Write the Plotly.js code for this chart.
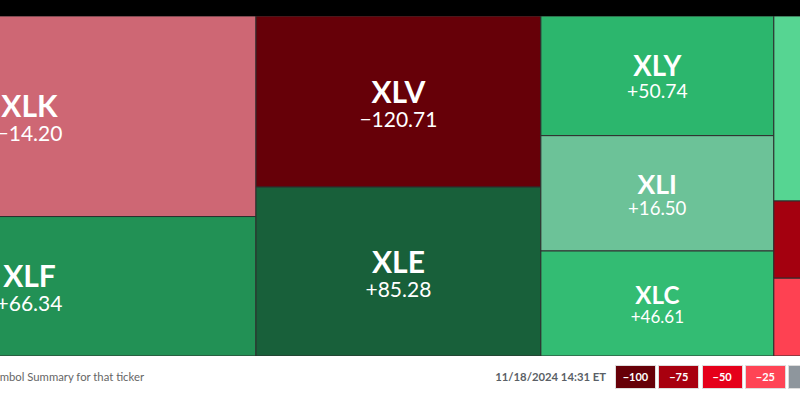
<!DOCTYPE html>
<html><head><meta charset="utf-8">
<script src="https://cdn.plot.ly/plotly-3.0.1.min.js"></script>
<style>
html,body{margin:0;padding:0;width:800px;height:400px;overflow:hidden;background:#fff;font-family:Lato,sans-serif;position:relative;}
#topbar{position:absolute;left:0;top:0;width:800px;height:16px;background:#000;}
#chart{position:absolute;left:-197px;top:16px;width:1141px;height:340px;}
#hint{position:absolute;right:656px;top:370px;font-size:11.3px;color:#666;white-space:nowrap;}
#stamp{position:absolute;right:194px;top:370px;font-size:11.3px;font-weight:bold;color:#5a5f66;white-space:nowrap;}
.box{position:absolute;top:365px;width:39px;height:22px;border:1px solid #ddd;color:#fff;font-size:11px;font-weight:bold;text-align:center;line-height:22px;}
</style></head>
<body>
<div id="topbar"></div>
<div id="chart"></div>
<div id="hint"></div>
<div id="stamp"></div>
<script>
const tickers = ['XLK','XLF','XLV','XLE','XLY','XLI','XLC','XLP','XLU','XLRE'];
const changes = [-14.20, 66.34, -120.71, 85.28, 50.74, 16.50, 46.61, 27.30, -76.40, -26.10];
const weights = [90.6, 63.0, 48.6, 48.0, 27.8, 26.8, 24.4, 31.4, 13.1, 13.2];
const columns = ['col1','col1','col2','col2','col3','col3','col3','col4','col4','col4'];
const columnIds = ['col1','col2','col3','col4'];
const legendSteps = [-100, -75, -50, -25, 0, 25, 50, 75, 100];
const footerHint = 'Click on a tile to view the Symbol Summary for that ticker';
const timestamp = '11/18/2024 14:31 ET';

const colorscale = [
  [0, '#660008'], [0.125, '#A8000F'], [0.25, '#E5001A'], [0.375, '#FF4455'],
  [0.5, '#8E969D'], [0.625, '#5AD896'], [0.75, '#2DB86E'], [0.875, '#1C7C48'], [1, '#123826']
];
const plotHeight = 340;

function fmt(v){ return (v < 0 ? '\u2212' : '+') + Math.abs(v).toFixed(2); }
function stepLabel(v){ return v < 0 ? '\u2212' + Math.abs(v) : (v > 0 ? '+' + v : '0'); }
function hex2rgb(h){ return [parseInt(h.substr(1,2),16), parseInt(h.substr(3,2),16), parseInt(h.substr(5,2),16)]; }
function scaleColor(v){
  let t = Math.max(0, Math.min(1, (v + 100) / 200));
  for (let i = 1; i < colorscale.length; i++) {
    if (t <= colorscale[i][0]) {
      const a = colorscale[i-1], b = colorscale[i];
      const f = (t - a[0]) / (b[0] - a[0]);
      const ca = hex2rgb(a[1]), cb = hex2rgb(b[1]);
      return 'rgb(' + ca.map((c, k) => Math.round(c + (cb[k] - c) * f)).join(',') + ')';
    }
  }
  return colorscale[colorscale.length-1][1];
}

// text shrinks in shorter tiles (share of its column)
const colTotals = {};
columns.forEach((c, i) => { colTotals[c] = (colTotals[c] || 0) + weights[i]; });
const textScale = weights.map((w, i) => Math.min(1, (w / colTotals[columns[i]]) * plotHeight / 130));

const ids = columnIds.concat(tickers);
const labels = columnIds.concat(tickers);
const parents = columnIds.map(() => '').concat(columns);
const values = columnIds.map(() => 0).concat(weights);
const colors = columnIds.map(() => 0).concat(changes);
const texts = columnIds.map(() => '').concat(tickers.map((t, i) =>
  '<span style="font-size:' + (30 * textScale[i]).toFixed(1) + 'px"><b>' + t + '</b></span><br>' +
  '<span style="font-size:' + (21 * textScale[i]).toFixed(1) + 'px">' + fmt(changes[i]) + '</span>'));
const baseSizes = columnIds.map(() => 18).concat(textScale.map(s => 18.5 * s));

Plotly.newPlot('chart', [{
  type: 'treemap',
  ids: ids, labels: labels, parents: parents, values: values,
  branchvalues: 'remainder', sort: false,
  tiling: {packing: 'slice-dice', pad: 0},
  marker: {colors: colors, colorscale: colorscale, cmin: -100, cmax: 100, showscale: false,
           line: {width: 1, color: '#2e2e2e'}, pad: {t: 0, l: 0, r: 0, b: 0}, depthfade: false},
  leaf: {opacity: 1},
  pathbar: {visible: false},
  text: texts, texttemplate: '%{text}', textposition: 'middle center',
  textfont: {family: 'Lato', size: baseSizes, color: '#ffffff'},
  hoverinfo: 'skip'
}], {
  margin: {l: 0, r: 0, t: 0, b: 0},
  paper_bgcolor: '#333333',
  showlegend: false,
  width: 1141, height: plotHeight
}, {displayModeBar: false, staticPlot: true});

document.getElementById('hint').textContent = footerHint;
document.getElementById('stamp').textContent = timestamp;
legendSteps.forEach((v, i) => {
  const d = document.createElement('div');
  d.className = 'box';
  d.style.left = (615 + i * 43.3) + 'px';
  d.style.background = scaleColor(v);
  d.textContent = stepLabel(v);
  document.body.appendChild(d);
});
</script>
</body></html>
